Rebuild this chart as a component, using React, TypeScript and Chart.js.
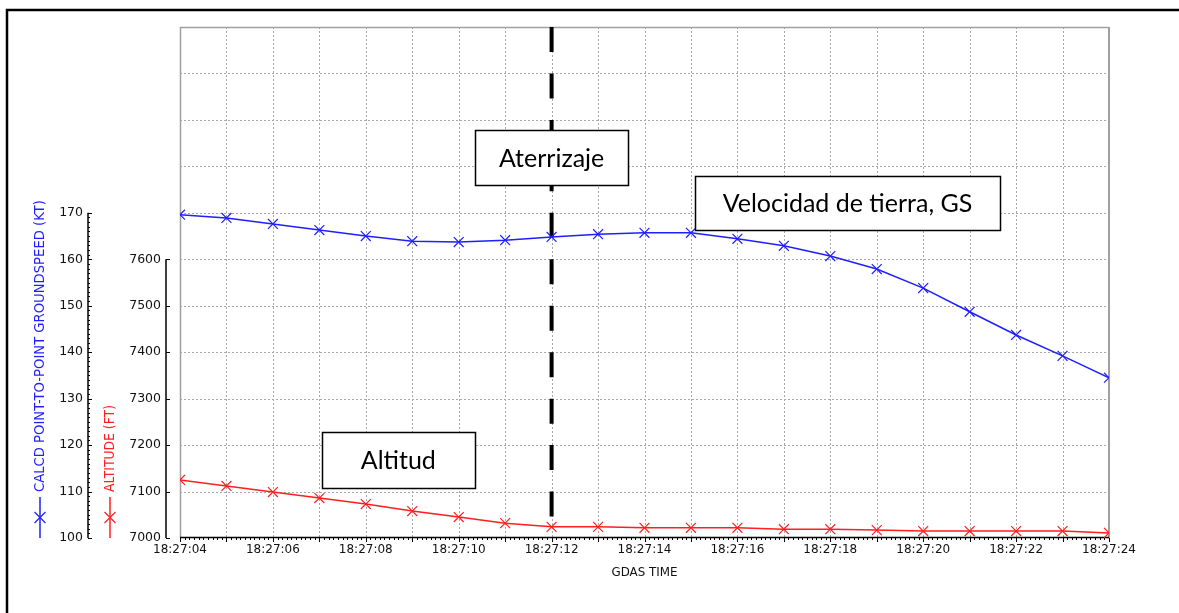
import React, { useEffect, useRef } from 'react';
import { Chart, registerables } from 'chart.js';

Chart.register(...registerables);

// ---- data ----
const timeLabels = [
  '18:27:04', '18:27:05', '18:27:06', '18:27:07', '18:27:08', '18:27:09', '18:27:10',
  '18:27:11', '18:27:12', '18:27:13', '18:27:14', '18:27:15', '18:27:16', '18:27:17',
  '18:27:18', '18:27:19', '18:27:20', '18:27:21', '18:27:22', '18:27:23', '18:27:24',
];
const groundSpeedKt = [
  169.6, 168.9, 167.6, 166.3, 165.0, 163.9, 163.7, 164.1, 164.8, 165.4, 165.7,
  165.7, 164.4, 162.9, 160.7, 157.9, 153.8, 148.7, 143.7, 139.2, 134.5,
];
const altitudeFt = [
  7125, 7112, 7099, 7086, 7073, 7058, 7045, 7032, 7024, 7024, 7022,
  7022, 7022, 7019, 7019, 7017, 7015, 7015, 7015, 7015, 7011,
];
const xTickLabels = ['18:27:04', '18:27:06', '18:27:08', '18:27:10', '18:27:12', '18:27:14', '18:27:16', '18:27:18', '18:27:20', '18:27:22', '18:27:24'];
const speedTicks = [100, 110, 120, 130, 140, 150, 160, 170];
const altitudeTicks = [7000, 7100, 7200, 7300, 7400, 7500, 7600];
const speedGrid = [100, 110, 120, 130, 140, 150, 160, 170, 180, 190, 200, 210];
const landingTime = '18:27:12';
const annotationTexts = ['Aterrizaje', 'Velocidad de tierra, GS', 'Altitud'];
const speedTitle = 'CALCD POINT-TO-POINT GROUNDSPEED (KT)';
const altitudeTitle = 'ALTITUDE (FT)';
const xTitle = 'GDAS TIME';

// ---- styles / layout ----
const W = 1179;
const H = 613;
const BLUE = '#1f1fff';
const RED = '#ff1f1f';
const GRID = '#a8a8a8';
const TICK_FONT = '12px "DejaVu Sans"';
const TITLE_FONT = '13.5px "DejaVu Sans"';
const SPEED_AXIS_X = 88;
const ALT_AXIS_X = 166;

// annotation anchors in data space (x index, speed value) + box size
const annotationBoxes = [
  { xi: 8.0, v: 181.9, w: 153, h: 55, tw: 108 },
  { xi: 14.37, v: 172.1, w: 305, h: 54, tw: 257 },
  { xi: 4.7, v: 116.8, w: 153, h: 56, tw: 77 },
];

function drawCross(ctx: CanvasRenderingContext2D, x: number, y: number, r: number, color: string) {
  ctx.save();
  ctx.strokeStyle = color;
  ctx.lineWidth = 1.2;
  ctx.beginPath();
  ctx.moveTo(x - r, y - r);
  ctx.lineTo(x + r, y + r);
  ctx.moveTo(x + r, y - r);
  ctx.lineTo(x - r, y + r);
  ctx.stroke();
  ctx.restore();
}

const decorPlugin = {
  id: 'decor',
  beforeDraw(chart: any) {
    const ctx = chart.ctx as CanvasRenderingContext2D;
    ctx.save();
    ctx.fillStyle = '#ffffff';
    ctx.fillRect(0, 0, chart.width, chart.height);
    // outer frame
    ctx.strokeStyle = '#000';
    ctx.lineWidth = 2.5;
    ctx.beginPath();
    ctx.moveTo(7, H);
    ctx.lineTo(7, 10);
    ctx.lineTo(W, 10);
    ctx.stroke();
    ctx.restore();
  },
  beforeDatasetsDraw(chart: any) {
    const ctx = chart.ctx as CanvasRenderingContext2D;
    const xs = chart.scales.x;
    const ys = chart.scales.y;
    const y2 = chart.scales.y2;
    const a = chart.chartArea;
    ctx.save();

    // grid
    ctx.strokeStyle = GRID;
    ctx.lineWidth = 1;
    ctx.setLineDash([2, 2]);
    for (let i = 1; i < timeLabels.length - 1; i++) {
      const x = Math.round(xs.getPixelForValue(i)) + 0.5;
      ctx.beginPath();
      ctx.moveTo(x, a.top);
      ctx.lineTo(x, a.bottom);
      ctx.stroke();
    }
    for (const v of speedGrid) {
      if (v === speedGrid[0] || v === speedGrid[speedGrid.length - 1]) continue;
      const y = Math.round(ys.getPixelForValue(v)) + 0.5;
      ctx.beginPath();
      ctx.moveTo(a.left, y);
      ctx.lineTo(a.right, y);
      ctx.stroke();
    }
    ctx.setLineDash([]);

    // plot border
    ctx.strokeStyle = '#a0a0a0';
    ctx.lineWidth = 1.5;
    ctx.beginPath();
    ctx.moveTo(a.left + 0.5, a.bottom);
    ctx.lineTo(a.left + 0.5, a.top + 0.5);
    ctx.lineTo(a.right, a.top + 0.5);
    ctx.stroke();
    ctx.lineWidth = 2;
    ctx.beginPath();
    ctx.moveTo(a.right, a.top);
    ctx.lineTo(a.right, a.bottom);
    ctx.stroke();

    // x axis line + ticks
    ctx.strokeStyle = '#000';
    ctx.lineWidth = 1.5;
    ctx.beginPath();
    ctx.moveTo(a.left, a.bottom - 0.5);
    ctx.lineTo(a.right, a.bottom - 0.5);
    ctx.stroke();
    ctx.lineWidth = 1;
    ctx.beginPath();
    const nSub = (timeLabels.length - 1) * 10;
    for (let k = 0; k <= nSub; k++) {
      const x = Math.round(xs.getPixelForValue(k / 10)) + 0.5;
      const len = k % 10 === 0 ? 4 : 2;
      ctx.moveTo(x, a.bottom);
      ctx.lineTo(x, a.bottom + len);
    }
    ctx.stroke();

    // x tick labels
    ctx.fillStyle = '#111';
    ctx.font = TICK_FONT;
    ctx.textAlign = 'center';
    ctx.textBaseline = 'middle';
    for (const lbl of xTickLabels) {
      const x = xs.getPixelForValue(timeLabels.indexOf(lbl));
      ctx.fillText(lbl, x, a.bottom + 12);
    }
    ctx.fillText(xTitle, (a.left + a.right) / 2, a.bottom + 35, 66);

    // speed axis
    const sTop = ys.getPixelForValue(speedTicks[speedTicks.length - 1]);
    const sBot = ys.getPixelForValue(speedTicks[0]);
    ctx.strokeStyle = '#000';
    ctx.lineWidth = 1.5;
    ctx.beginPath();
    ctx.moveTo(SPEED_AXIS_X, sTop);
    ctx.lineTo(SPEED_AXIS_X, sBot);
    ctx.stroke();
    ctx.lineWidth = 1;
    ctx.beginPath();
    for (let v = speedTicks[0]; v <= speedTicks[speedTicks.length - 1]; v += 1) {
      const y = Math.round(ys.getPixelForValue(v)) + 0.5;
      const len = (v - speedTicks[0]) % 10 === 0 ? 4 : 2;
      ctx.moveTo(SPEED_AXIS_X, y);
      ctx.lineTo(SPEED_AXIS_X + len, y);
    }
    ctx.stroke();
    ctx.font = '12.5px "DejaVu Sans"';
    ctx.textAlign = 'right';
    for (const v of speedTicks) {
      ctx.fillText(String(v), SPEED_AXIS_X - 5, ys.getPixelForValue(v));
    }

    // altitude axis
    const aTop = y2.getPixelForValue(altitudeTicks[altitudeTicks.length - 1]);
    const aBot = y2.getPixelForValue(altitudeTicks[0]);
    ctx.lineWidth = 1.5;
    ctx.beginPath();
    ctx.moveTo(ALT_AXIS_X, aTop);
    ctx.lineTo(ALT_AXIS_X, aBot);
    ctx.stroke();
    ctx.lineWidth = 1;
    ctx.beginPath();
    for (const v of altitudeTicks) {
      const y = Math.round(y2.getPixelForValue(v)) + 0.5;
      ctx.moveTo(ALT_AXIS_X, y);
      ctx.lineTo(ALT_AXIS_X + 4, y);
    }
    ctx.stroke();
    for (const v of altitudeTicks) {
      ctx.fillText(String(v), ALT_AXIS_X - 5, y2.getPixelForValue(v));
    }

    // rotated titles
    ctx.font = TITLE_FONT;
    ctx.textAlign = 'center';
    ctx.save();
    ctx.translate(40, 346);
    ctx.rotate(-Math.PI / 2);
    ctx.fillStyle = BLUE;
    ctx.fillText(speedTitle, 0, 0, 292);
    ctx.restore();
    ctx.save();
    ctx.translate(110, 448.5);
    ctx.rotate(-Math.PI / 2);
    ctx.fillStyle = RED;
    ctx.fillText(altitudeTitle, 0, 0, 87);
    ctx.restore();

    // legend symbols
    const legendTop = 497;
    const legendBot = a.bottom;
    const mid = (legendTop + legendBot) / 2;
    ctx.lineWidth = 1.5;
    ctx.strokeStyle = BLUE;
    ctx.beginPath();
    ctx.moveTo(40, legendTop);
    ctx.lineTo(40, legendBot);
    ctx.stroke();
    drawCross(ctx, 40, mid, 5.5, BLUE);
    ctx.strokeStyle = RED;
    ctx.beginPath();
    ctx.moveTo(110, legendTop);
    ctx.lineTo(110, legendBot);
    ctx.stroke();
    drawCross(ctx, 110, mid, 5.5, RED);

    // landing dashed line
    const lx = xs.getPixelForValue(timeLabels.indexOf(landingTime));
    const step = ys.getPixelForValue(speedGrid[0]) - ys.getPixelForValue(speedGrid[1]);
    ctx.strokeStyle = '#000';
    ctx.lineWidth = 4;
    ctx.setLineDash([25, step - 25]);
    ctx.beginPath();
    ctx.moveTo(lx, a.top);
    ctx.lineTo(lx, a.bottom);
    ctx.stroke();
    ctx.setLineDash([]);

    ctx.restore();
  },
  afterDatasetsDraw(chart: any) {
    const ctx = chart.ctx as CanvasRenderingContext2D;
    const xs = chart.scales.x;
    const ys = chart.scales.y;
    ctx.save();
    annotationBoxes.forEach((b, i) => {
      const cx = xs.getPixelForValue(b.xi);
      const cy = ys.getPixelForValue(b.v);
      const x0 = Math.round(cx - b.w / 2) + 0.5;
      const y0 = Math.round(cy - b.h / 2) + 0.5;
      ctx.fillStyle = '#fff';
      ctx.fillRect(x0, y0, b.w, b.h);
      ctx.strokeStyle = '#000';
      ctx.lineWidth = 1.5;
      ctx.strokeRect(x0, y0, b.w, b.h);
      ctx.fillStyle = '#000';
      ctx.font = '25px Lato';
      ctx.textAlign = 'center';
      ctx.textBaseline = 'middle';
      ctx.fillText(annotationTexts[i], cx, cy + 1, b.tw);
    });
    ctx.restore();
  },
};

export default function App() {
  const ref = useRef<HTMLCanvasElement | null>(null);
  useEffect(() => {
    if (!ref.current) return;
    const chart = new Chart(ref.current, {
      type: 'line',
      data: {
        labels: timeLabels,
        datasets: [
          {
            label: speedTitle,
            data: groundSpeedKt,
            yAxisID: 'y',
            borderColor: BLUE,
            borderWidth: 1.5,
            pointStyle: 'crossRot',
            pointRadius: 7,
            pointBorderColor: BLUE,
            pointBorderWidth: 1.2,
            pointBackgroundColor: BLUE,
            tension: 0,
            clip: 0,
          },
          {
            label: altitudeTitle,
            data: altitudeFt,
            yAxisID: 'y2',
            borderColor: RED,
            borderWidth: 1.5,
            pointStyle: 'crossRot',
            pointRadius: 7,
            pointBorderColor: RED,
            pointBorderWidth: 1.2,
            pointBackgroundColor: RED,
            tension: 0,
            clip: 0,
          },
        ],
      },
      options: {
        responsive: false,
        animation: false,
        devicePixelRatio: 1,
        events: [],
        layout: { padding: { left: 180, top: 27, right: W - 1109, bottom: H - 538 } },
        plugins: { legend: { display: false }, tooltip: { enabled: false } },
        scales: {
          x: { type: 'category', display: false, offset: false },
          y: { type: 'linear', display: false, min: 100, max: 210 },
          y2: { type: 'linear', display: false, min: 7000, max: 8100 },
        },
      },
      plugins: [decorPlugin],
    });
    return () => chart.destroy();
  }, []);
  return (
    <div style={{ position: 'absolute', left: 0, top: 0, width: W, height: H, background: '#fff' }}>
      <canvas ref={ref} width={W} height={H} style={{ display: 'block', width: W, height: H }} />
    </div>
  );
}
